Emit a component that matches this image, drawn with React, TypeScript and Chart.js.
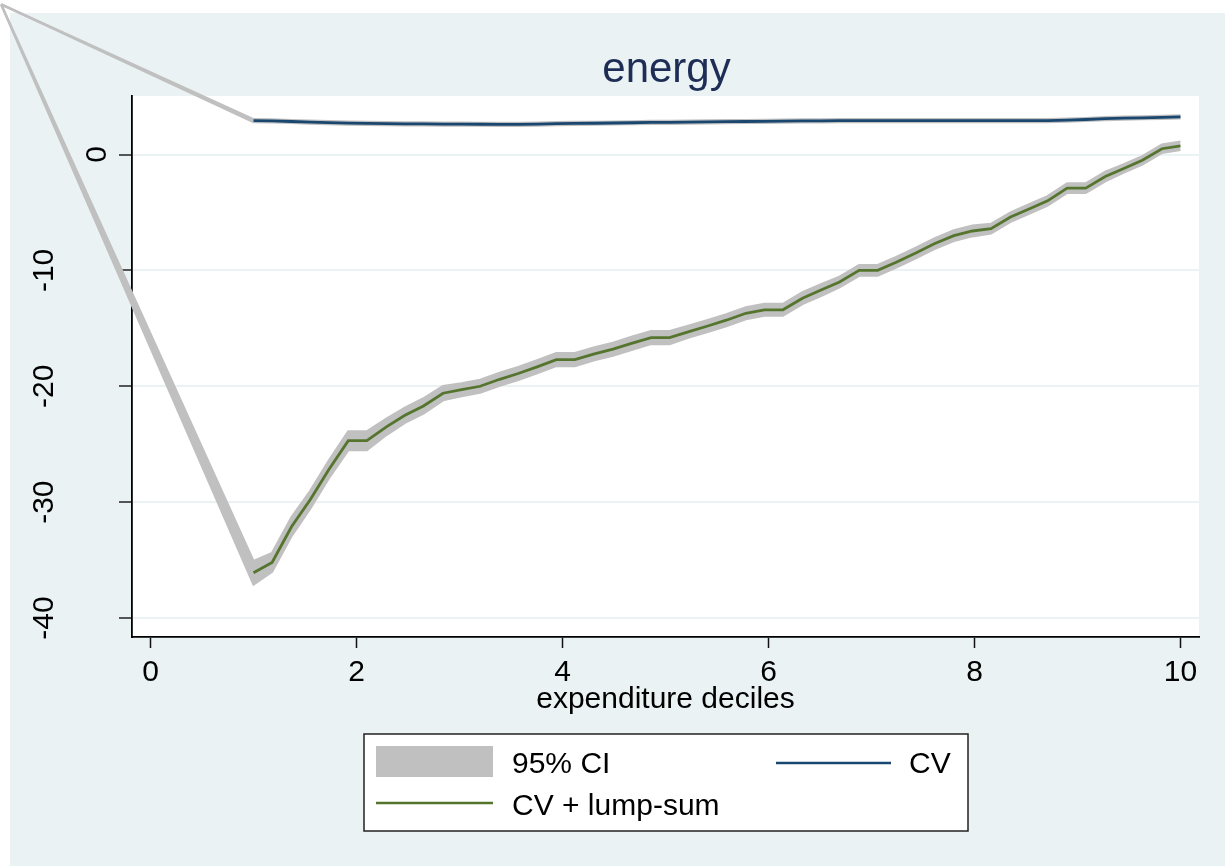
import React, { useEffect, useRef } from 'react';
import { Chart, registerables } from 'chart.js';

Chart.register(...registerables);

// ---------------- data ----------------
const X_DECILES = [
  1.0, 1.18, 1.37, 1.55, 1.73, 1.92, 2.1, 2.29, 2.47, 2.65,
  2.84, 3.02, 3.2, 3.39, 3.57, 3.76, 3.94, 4.12, 4.31, 4.49,
  4.67, 4.86, 5.04, 5.22, 5.41, 5.59, 5.78, 5.96, 6.14, 6.33,
  6.51, 6.69, 6.88, 7.06, 7.24, 7.43, 7.61, 7.8, 7.98, 8.16,
  8.35, 8.53, 8.71, 8.9, 9.08, 9.27, 9.45, 9.63, 9.82, 10.0,
];

const CV = [
  2.92, 2.9, 2.85, 2.8, 2.75, 2.71, 2.69, 2.67, 2.65, 2.64,
  2.63, 2.62, 2.61, 2.6, 2.6, 2.62, 2.66, 2.69, 2.7, 2.72,
  2.74, 2.77, 2.78, 2.8, 2.82, 2.84, 2.85, 2.86, 2.88, 2.9,
  2.91, 2.92, 2.92, 2.92, 2.92, 2.92, 2.92, 2.92, 2.92, 2.92,
  2.92, 2.92, 2.93, 2.97, 3.02, 3.1, 3.14, 3.17, 3.2, 3.25,
];
const CV_CI_UPPER = [
  3.04, 3.02, 2.97, 2.92, 2.87, 2.83, 2.81, 2.79, 2.77, 2.76,
  2.75, 2.74, 2.73, 2.72, 2.72, 2.74, 2.78, 2.81, 2.82, 2.84,
  2.86, 2.89, 2.9, 2.92, 2.94, 2.96, 2.97, 2.98, 3.0, 3.02,
  3.03, 3.04, 3.04, 3.04, 3.04, 3.04, 3.04, 3.04, 3.04, 3.04,
  3.04, 3.04, 3.05, 3.09, 3.14, 3.22, 3.26, 3.29, 3.32, 3.37,
];
const CV_CI_LOWER = [
  2.8, 2.78, 2.73, 2.68, 2.63, 2.59, 2.57, 2.55, 2.53, 2.52,
  2.51, 2.5, 2.49, 2.48, 2.48, 2.5, 2.54, 2.57, 2.58, 2.6,
  2.62, 2.65, 2.66, 2.68, 2.7, 2.72, 2.73, 2.74, 2.76, 2.78,
  2.79, 2.8, 2.8, 2.8, 2.8, 2.8, 2.8, 2.8, 2.8, 2.8,
  2.8, 2.8, 2.81, 2.85, 2.9, 2.98, 3.02, 3.05, 3.08, 3.13,
];

const CV_LUMP = [
  -36.1, -35.2, -32.1, -29.8, -27.2, -24.7, -24.7, -23.5, -22.5, -21.7,
  -20.6, -20.3, -20.0, -19.4, -18.9, -18.3, -17.7, -17.7, -17.2, -16.8,
  -16.3, -15.8, -15.8, -15.3, -14.8, -14.3, -13.7, -13.4, -13.4, -12.4,
  -11.7, -11.0, -10.0, -10.0, -9.3, -8.5, -7.7, -7.0, -6.6, -6.4,
  -5.4, -4.7, -4.0, -2.9, -2.9, -1.9, -1.2, -0.5, 0.5, 0.75,
];
const LUMP_CI_UPPER = [
  -35.1, -34.4, -31.3, -29.05, -26.45, -23.9, -23.9, -22.8, -21.85, -21.05,
  -20.0, -19.75, -19.45, -18.85, -18.35, -17.75, -17.15, -17.15, -16.65, -16.25,
  -15.75, -15.25, -15.25, -14.8, -14.3, -13.8, -13.2, -12.9, -12.9, -11.9,
  -11.2, -10.55, -9.55, -9.55, -8.85, -8.05, -7.25, -6.55, -6.15, -6.0,
  -5.0, -4.3, -3.6, -2.5, -2.5, -1.5, -0.85, -0.15, 0.85, 1.1,
];
const LUMP_CI_LOWER = [
  -37.1, -36.0, -32.9, -30.55, -27.95, -25.5, -25.5, -24.2, -23.15, -22.35,
  -21.2, -20.85, -20.55, -19.95, -19.45, -18.85, -18.25, -18.25, -17.75, -17.35,
  -16.85, -16.35, -16.35, -15.8, -15.3, -14.8, -14.2, -13.9, -13.9, -12.9,
  -12.2, -11.45, -10.45, -10.45, -9.75, -8.95, -8.15, -7.45, -7.05, -6.8,
  -5.8, -5.1, -4.4, -3.3, -3.3, -2.3, -1.55, -0.85, 0.15, 0.4,
];

// stray observation of the CI areas (drawn off the plot region in the original)
const STRAY_X = -1.45;
const STRAY_Y = 12.95;

const X_TICKS = [0, 2, 4, 6, 8, 10];
const Y_TICKS = [0, -10, -20, -30, -40];
const X_MIN = -0.18;
const X_MAX = 10.18;
const Y_MIN = -41.64;
const Y_MAX = 5.05;

const TITLE = 'energy';
const X_TITLE = 'expenditure deciles';
const LEGEND_CI = '95% CI';
const LEGEND_CV = 'CV';
const LEGEND_LUMP = 'CV + lump-sum';

// ---------------- style ----------------
const FONT = '"Liberation Sans", Arial, Helvetica, sans-serif';
const BG = '#EAF2F3';
const GRID = '#EAF2F3';
const NAVY = '#1A476F';
const GREEN = '#55752F';
const CI_GRAY = '#C0C0C0';
const TITLE_COLOR = '#1E2D55';
const W = 1225;
const H = 866;

const pts = (xs: number[], ys: number[]) => xs.map((x, i) => ({ x, y: ys[i] }));
const ciPts = (xs: number[], ys: number[]) => [{ x: STRAY_X, y: STRAY_Y }, ...pts(xs, ys)];

const CI_PAIRS = [
  [CV_CI_UPPER, CV_CI_LOWER],
  [LUMP_CI_UPPER, LUMP_CI_LOWER],
];

const stataPlugin = {
  id: 'stataDecor',
  beforeDraw(chart: any) {
    const { ctx, chartArea: ca, width, height } = chart;
    ctx.save();
    ctx.fillStyle = '#ffffff';
    ctx.fillRect(0, 0, width, height);
    ctx.fillStyle = BG;
    ctx.fillRect(10, 13, width - 10, height - 13);
    ctx.fillStyle = '#ffffff';
    ctx.fillRect(ca.left, ca.top, ca.right - ca.left, ca.bottom - ca.top);
    ctx.restore();
  },
  beforeDatasetsDraw(chart: any) {
    // area between the stray observation and the first decile point (unclipped part of the CI areas)
    const { ctx, scales } = chart;
    const sx = scales.x;
    const sy = scales.y;
    ctx.save();
    ctx.fillStyle = CI_GRAY;
    for (const [up, lo] of CI_PAIRS) {
      ctx.beginPath();
      ctx.moveTo(sx.getPixelForValue(STRAY_X), sy.getPixelForValue(STRAY_Y));
      ctx.lineTo(sx.getPixelForValue(X_DECILES[0]), sy.getPixelForValue(up[0]));
      ctx.lineTo(sx.getPixelForValue(X_DECILES[0]), sy.getPixelForValue(lo[0]));
      ctx.closePath();
      ctx.fill();
    }
    ctx.restore();
  },
  afterDraw(chart: any) {
    const { ctx, chartArea: ca, scales } = chart;
    const cx = (ca.left + ca.right) / 2;
    ctx.save();
    // title
    ctx.font = `42px ${FONT}`;
    ctx.fillStyle = TITLE_COLOR;
    ctx.textAlign = 'center';
    ctx.textBaseline = 'alphabetic';
    ctx.fillText(TITLE, cx + 1, 82);

    // rotated y tick labels
    ctx.font = `30px ${FONT}`;
    ctx.fillStyle = '#000000';
    const ys = scales.y;
    for (const t of ys.ticks) {
      const label = String(t.value);
      const w = ctx.measureText(label).width;
      const py = ys.getPixelForValue(t.value);
      const lx = ca.left - 0.5 - 2 * w;
      ctx.save();
      ctx.translate(lx, py);
      ctx.rotate(-Math.PI / 2);
      ctx.textAlign = 'center';
      ctx.textBaseline = 'middle';
      ctx.fillText(label, 0, 0);
      ctx.restore();
    }

    // legend
    const lw = 604;
    const lh = 97;
    const lx0 = Math.round(cx - lw / 2);
    const ly0 = 734;
    ctx.fillStyle = '#ffffff';
    ctx.fillRect(lx0, ly0, lw, lh);
    ctx.strokeStyle = '#222222';
    ctx.lineWidth = 1.5;
    ctx.strokeRect(lx0, ly0, lw, lh);

    ctx.fillStyle = CI_GRAY;
    ctx.fillRect(lx0 + 12, ly0 + 12, 117, 31);

    ctx.lineWidth = 2.6;
    ctx.strokeStyle = NAVY;
    ctx.beginPath();
    ctx.moveTo(lx0 + 412, ly0 + 29);
    ctx.lineTo(lx0 + 527, ly0 + 29);
    ctx.stroke();
    ctx.strokeStyle = GREEN;
    ctx.beginPath();
    ctx.moveTo(lx0 + 12, ly0 + 69);
    ctx.lineTo(lx0 + 129, ly0 + 69);
    ctx.stroke();

    ctx.font = `30px ${FONT}`;
    ctx.fillStyle = '#000000';
    ctx.textAlign = 'left';
    ctx.textBaseline = 'alphabetic';
    ctx.fillText(LEGEND_CI, lx0 + 148, ly0 + 39);
    ctx.fillText(LEGEND_CV, lx0 + 545, ly0 + 39);
    ctx.fillText(LEGEND_LUMP, lx0 + 148, ly0 + 81);
    ctx.restore();
  },
};

export default function App() {
  const ref = useRef<HTMLCanvasElement>(null);

  useEffect(() => {
    if (!ref.current) return;
    const lineBase = { pointRadius: 0, pointHoverRadius: 0, tension: 0, clip: false as any };
    const ciBase = { ...lineBase, borderColor: CI_GRAY, backgroundColor: CI_GRAY, borderWidth: 2.4 };
    const chart = new Chart(ref.current, {
      type: 'line',
      data: {
        datasets: [
          { ...lineBase, label: LEGEND_CV, data: pts(X_DECILES, CV), borderColor: NAVY, borderWidth: 2.8, fill: false, order: 0 },
          { ...lineBase, label: LEGEND_LUMP, data: pts(X_DECILES, CV_LUMP), borderColor: GREEN, borderWidth: 2.8, fill: false, order: 1 },
          { ...ciBase, label: LEGEND_CI, data: ciPts(X_DECILES, CV_CI_UPPER), fill: '+1', order: 2 },
          { ...ciBase, label: 'CV CI lower', data: ciPts(X_DECILES, CV_CI_LOWER), fill: false, order: 3 },
          { ...ciBase, label: 'lump CI upper', data: ciPts(X_DECILES, LUMP_CI_UPPER), fill: '+1', order: 4 },
          { ...ciBase, label: 'lump CI lower', data: ciPts(X_DECILES, LUMP_CI_LOWER), fill: false, order: 5 },
        ] as any,
      },
      options: {
        responsive: false,
        animation: false,
        devicePixelRatio: 1,
        events: [],
        layout: { padding: { left: 10, top: 96, right: 26, bottom: 0 } },
        plugins: {
          legend: { display: false },
          title: { display: false },
          tooltip: { enabled: false },
        },
        scales: {
          x: {
            type: 'linear',
            min: X_MIN,
            max: X_MAX,
            afterBuildTicks: (s: any) => {
              s.ticks = X_TICKS.map((v) => ({ value: v }));
            },
            afterFit: (s: any) => {
              s.height = 229;
              s.paddingLeft = 0;
              s.paddingRight = 0;
            },
            ticks: {
              autoSkip: false,
              maxRotation: 0,
              minRotation: 0,
              padding: 7,
              color: '#000000',
              font: { family: FONT, size: 30 },
            },
            grid: {
              display: true,
              drawOnChartArea: false,
              drawTicks: true,
              tickLength: 11,
              tickColor: '#111111',
              tickWidth: 1.5,
            },
            border: { display: true, color: '#000000', width: 1.8 },
            title: {
              display: true,
              text: X_TITLE,
              color: '#000000',
              font: { family: FONT, size: 30 },
              padding: { top: 0, bottom: 148 },
            },
          },
          y: {
            type: 'linear',
            min: Y_MIN,
            max: Y_MAX,
            afterBuildTicks: (s: any) => {
              s.ticks = Y_TICKS.map((v) => ({ value: v }));
            },
            afterFit: (s: any) => {
              s.width = 122;
              s.paddingTop = 0;
              s.paddingBottom = 0;
            },
            ticks: { display: false },
            grid: {
              display: true,
              drawOnChartArea: true,
              drawTicks: true,
              tickLength: 13,
              color: GRID,
              lineWidth: 2,
              tickColor: '#222222',
              tickWidth: 1.5,
            },
            border: { display: true, color: '#000000', width: 1.8 },
          },
        },
      } as any,
      plugins: [stataPlugin as any],
    });
    return () => chart.destroy();
  }, []);

  return (
    <div style={{ position: 'fixed', left: 0, top: 0, width: W, height: H }}>
      <canvas ref={ref} width={W} height={H} style={{ display: 'block', width: W, height: H }} />
    </div>
  );
}
